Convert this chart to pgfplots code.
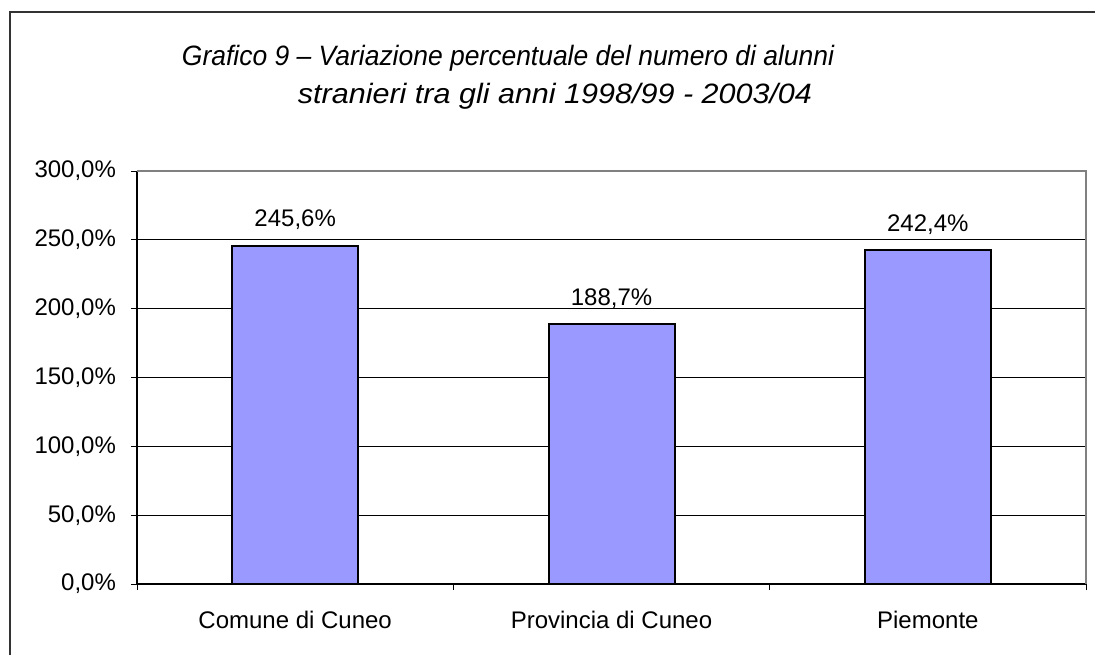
\documentclass[border=0pt]{standalone}
\usepackage{pgfplots}
\pgfplotsset{compat=1.18}
\usepackage{fontspec}
\setmainfont{Liberation Sans}
\definecolor{barfill}{HTML}{9999FF}
\begin{document}
\begin{tikzpicture}[x=0.5pt,y=0.5pt]
  % page: 1095 x 655 px, 1 px = 0.5pt, y measured from the bottom
  \useasboundingbox (0,0) rectangle (1095,655);
  \draw[line width=1.2pt, black!80] (10,0) -- (10,643) -- (1095,643);
  \node[font=\fontsize{14}{16}\selectfont\itshape, anchor=base, xscale=0.945, transform shape] at (508,589)
    {Grafico 9 -- Variazione percentuale del numero di alunni};
  \node[font=\fontsize{14}{16}\selectfont\itshape, anchor=base, xscale=1.09, transform shape] at (555,552)
    {stranieri tra gli anni 1998/99 - 2003/04};
  \begin{axis}[
    at={(68.5pt,35.5pt)}, anchor=south west,
    scale only axis,
    width=474.5pt, height=206.5pt,
    xmin=-0.5, xmax=2.5,
    ymin=0, ymax=300,
    axis lines=left,
    axis line style={-, black, line width=0.6pt},
    tick align=outside,
    major tick length=3pt,
    tick style={black, line width=0.5pt},
    xtick={-0.5,0.5,1.5,2.5},
    xticklabels={},
    extra x ticks={0,1,2},
    extra x tick labels={Comune di Cuneo, Provincia di Cuneo, Piemonte},
    extra x tick style={major tick length=0pt,
      xticklabel style={anchor=base, yshift=-22pt}},
    ytick={0,50,...,300},
    yticklabels={{0,0\%},{50,0\%},{100,0\%},{150,0\%},{200,0\%},{250,0\%},{300,0\%}},
    yticklabel style={xshift=-4pt},
    ymajorgrids,
    grid style={black, line width=0.5pt},
    tick label style={font=\fontsize{12}{14}\selectfont},
    ybar, bar width=63pt,
    nodes near coords={\pgfmathprintnumber[fixed,fixed zerofill,precision=1,use comma,assume math mode=true]{\pgfplotspointmeta}\%},
    every node near coord/.append style={font=\fontsize{12}{14}\selectfont, anchor=base, inner sep=0pt, yshift=9.5pt},
    clip=false,
  ]
    \addplot[fill=barfill, draw=black, line width=1pt] coordinates {
      (0,245.6) (1,188.7) (2,242.4)
    };
    \draw[gray, line width=0.8pt] (rel axis cs:0,1) -- (rel axis cs:1,1) -- (rel axis cs:1,0);
  \end{axis}
\end{tikzpicture}
\end{document}
